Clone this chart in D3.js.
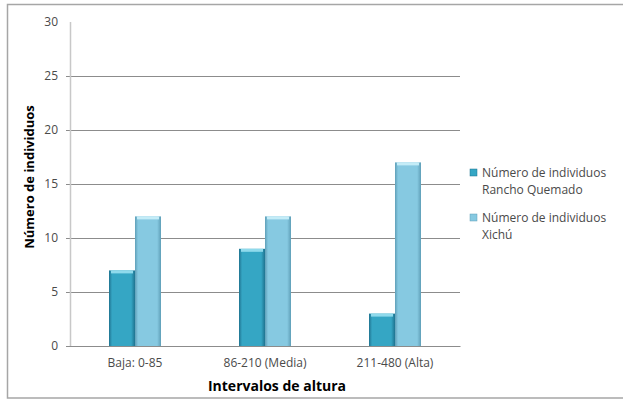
<!DOCTYPE html>
<html>
<head>
<meta charset="utf-8">
<script src="https://d3js.org/d3.v7.min.js"></script>
<style>
  body { margin:0; background:#fff; }
  text { font-family: "Open Sans", "Liberation Sans", sans-serif; }
</style>
</head>
<body>
<svg id="chart" width="623" height="402"></svg>
<script>
// data
const categories = ["Baja: 0-85", "86-210 (Media)", "211-480 (Alta)"];
const seriesNames = ["Rancho Quemado", "Xichú"];
const ranchoQuemado = [7, 9, 3];
const xichu = [12, 12, 17];
const yTicks = [0, 5, 10, 15, 20, 25, 30];

const svg = d3.select('#chart');
const margin = {l:70, t:22, r:163, b:56};
const W = 623, H = 402;
const chartW = W - margin.l - margin.r;   // 390
const chartH = H - margin.t - margin.b;   // 324

// outer frame (right edge is cut off in the original)
svg.append('rect')
  .attr('x', 7.5).attr('y', 4.5).attr('width', 640).attr('height', 393.5)
  .attr('fill', '#fff').attr('stroke', '#a6a6a6').attr('stroke-width', 1.5);

// gradients for the bevelled bars
const defs = svg.append('defs');
const colors = [
  {id:'g0', edge:'#1f7390', mid:'#35a6c4', top:'#8fdaec'},
  {id:'g1', edge:'#5f9fb8', mid:'#86c9e1', top:'#c4ecf7'}
];
colors.forEach(c => {
  const g = defs.append('linearGradient').attr('id', c.id)
    .attr('x1', 0).attr('x2', 1).attr('y1', 0).attr('y2', 0);
  g.append('stop').attr('offset', '0%').attr('stop-color', c.edge);
  g.append('stop').attr('offset', '12%').attr('stop-color', c.mid);
  g.append('stop').attr('offset', '85%').attr('stop-color', c.mid);
  g.append('stop').attr('offset', '100%').attr('stop-color', c.edge);
});

const g = svg.append('g').attr('transform', `translate(${margin.l},${margin.t})`);

const x0 = d3.scaleBand().domain(categories).range([0, chartW]);
const x1 = d3.scaleBand().domain(seriesNames).range([x0.bandwidth()*0.3, x0.bandwidth()*0.7]);
const y = d3.scaleLinear().domain([0, 30]).range([chartH, 0]);

// gridlines + y axis
const yAxis = g.append('g')
  .call(d3.axisLeft(y).tickValues(yTicks).tickSize(-chartW).tickPadding(12).tickFormat(d3.format('d')));
yAxis.select('.domain').remove();
yAxis.selectAll('.tick line').attr('stroke', '#8c8c8c').attr('x1', -4)
  .attr('opacity', d => d === 30 ? 0 : 1);
yAxis.selectAll('.tick text').attr('fill', '#4a4a4a').style('font-size', '12px');

// vertical axis line
g.append('line').attr('x1', 0.5).attr('x2', 0.5).attr('y1', 0).attr('y2', chartH)
  .attr('stroke', '#c8c8c8').attr('stroke-width', 1.5);

// x axis labels
const xAxis = g.append('g').attr('transform', `translate(0,${chartH})`)
  .call(d3.axisBottom(x0).tickSize(0).tickPadding(12));
xAxis.select('.domain').attr('stroke', '#8c8c8c');
xAxis.selectAll('.tick text').attr('fill', '#4a4a4a').style('font-size', '12px');

// bars
const rows = categories.map((c, i) => ({cat:c, vals:[ranchoQuemado[i], xichu[i]]}));
const grp = g.selectAll('g.grp').data(rows).enter().append('g')
  .attr('transform', d => `translate(${x0(d.cat)},0)`);
grp.selectAll('rect').data(d => d.vals.map((v, k) => ({k, v}))).enter().append('rect')
  .attr('x', d => x1(seriesNames[d.k]))
  .attr('y', d => y(d.v))
  .attr('width', x1.bandwidth())
  .attr('height', d => chartH - y(d.v))
  .attr('fill', d => `url(#g${d.k})`);
// top highlight
grp.selectAll('rect.hl').data(d => d.vals.map((v, k) => ({k, v}))).enter().append('rect')
  .attr('class', 'hl')
  .attr('x', d => x1(seriesNames[d.k]) + 2)
  .attr('y', d => y(d.v))
  .attr('width', x1.bandwidth() - 4)
  .attr('height', 3)
  .attr('fill', d => colors[d.k].top);

// axis titles
svg.append('text')
  .attr('transform', 'translate(34,177) rotate(-90)')
  .attr('text-anchor', 'middle')
  .style('font-size', '13px').style('font-weight', 'bold')
  .text('Número de individuos');
svg.append('text')
  .attr('x', 277).attr('y', 391)
  .attr('text-anchor', 'middle')
  .style('font-size', '14px').style('font-weight', 'bold')
  .text('Intervalos de altura');

// legend
const legend = svg.append('g').attr('transform', 'translate(470,166)');
const legItems = legend.selectAll('g').data(seriesNames).enter().append('g')
  .attr('transform', (d, i) => `translate(0,${i*45})`);
legItems.append('rect').attr('x', 0).attr('y', 3).attr('width', 7).attr('height', 7)
  .attr('fill', (d, i) => colors[i].mid).attr('stroke', (d, i) => colors[i].edge).attr('stroke-width', 0.5);
legItems.append('text').attr('x', 12).attr('y', 11)
  .style('font-size', '12px').attr('fill', '#4a4a4a')
  .text('Número de individuos');
legItems.append('text').attr('x', 12).attr('y', 28)
  .style('font-size', '12px').attr('fill', '#4a4a4a')
  .text(d => d);
</script>
</body>
</html>
